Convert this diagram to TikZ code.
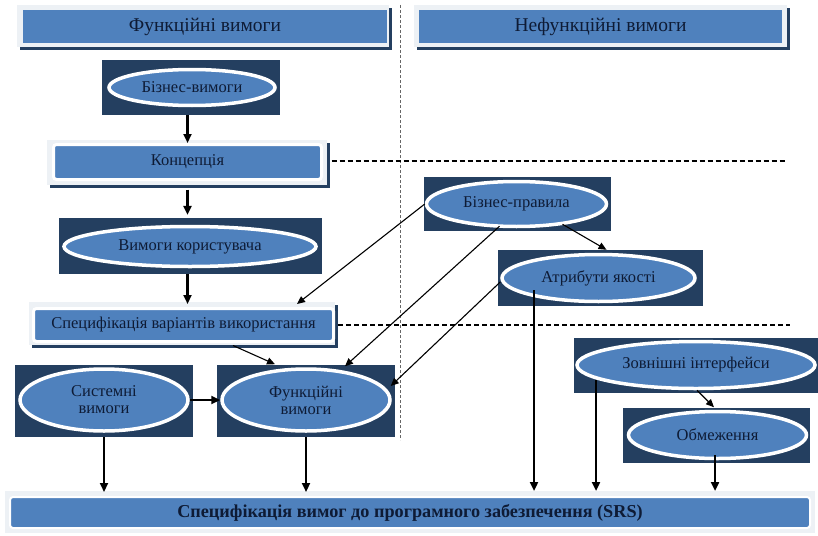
\documentclass[tikz,border=0pt]{standalone}
\usepackage{fontspec}
\setmainfont{Liberation Serif}
\usetikzlibrary{arrows.meta,calc,shapes.geometric}

\definecolor{fillblue}{HTML}{4F81BD}
\definecolor{navy}{HTML}{243F60}
\definecolor{ink}{HTML}{0E1B35}
\definecolor{haze}{HTML}{EDF1F5}

\begin{document}
\begin{tikzpicture}[x=1pt,y=-1pt,
  plate/.style={rectangle, fill=navy, draw=none, inner sep=0pt},
  oval/.style={ellipse, fill=fillblue, draw=white, line width=3.5pt, inner sep=0pt,
    text=ink, font=\rmfamily\fontsize{16.5}{17}\selectfont, align=center},
  bar/.style={rectangle, rounded corners=3pt, fill=fillblue, draw=white, line width=3pt,
    inner sep=0pt, text=ink, font=\rmfamily\fontsize{16.5}{18}\selectfont},
  head/.style={rectangle, fill=fillblue, draw=none, inner sep=0pt, text=ink,
    font=\rmfamily\fontsize{19.5}{21}\selectfont},
  varr/.style={-{Triangle[length=9pt,width=8pt]}, line width=2.2pt},
  darr/.style={-{Triangle[length=8pt,width=7pt]}, line width=1.1pt},
  sep/.style={line width=1.2pt, dash pattern=on 5pt off 3pt},
  divider/.style={line width=0.6pt, draw=black!60, dash pattern=on 3pt off 2pt},
]
\useasboundingbox (0,0) rectangle (818,535);
\fill[white] (0,0) rectangle (818,535);

% column headings
\fill[navy] (20,8) rectangle (392,50);
\fill[haze] (17,5) rectangle (389,47);
\node[head, minimum width=364, minimum height=33] (fh) at (205,26.5) {Функційні вимоги};
\fill[navy] (417,8) rectangle (790,50);
\fill[haze] (414,5) rectangle (787,47);
\node[head, minimum width=363, minimum height=33] (nh) at (600.5,26.5) {Нефункційні вимоги};

% column divider
\coordinate (divtop) at (400,5);
\coordinate (divbot) at (400,440);
\draw[divider] (divtop) -- (divbot);

% functional side
\node[plate, minimum width=178, minimum height=55] (bvp) at (191,87.5) {};
\node[oval, minimum width=166, minimum height=36] (bv) at (192,87.5) {Бізнес-вимоги};

\fill[navy] (50,143) rectangle (330,188);
\fill[haze] (47,140) rectangle (327,185);
\node[bar, minimum width=268, minimum height=35] (konc) at (187.5,162) {Концепція};

\node[plate, minimum width=263, minimum height=56] (vkp) at (190.5,246) {};
\node[oval, minimum width=252, minimum height=40] (vk) at (190,246.5) {Вимоги користувача};

\fill[navy] (32,305) rectangle (338,348);
\fill[haze] (29,302) rectangle (335,345);
\node[bar, minimum width=300, minimum height=33] (spec) at (183.5,325) {Специфікація варіантів використання};

\node[plate, minimum width=178, minimum height=72] (svp) at (104,401) {};
\node[oval, minimum width=168, minimum height=62] (sv) at (104,400) {Системні\\вимоги};
\node[plate, minimum width=178, minimum height=72] (fvp) at (306,401) {};
\node[oval, minimum width=168, minimum height=62] (fv) at (306,400) {Функційні\\вимоги};

% non-functional side
\node[plate, minimum width=187, minimum height=54] (bpp) at (517.5,204) {};
\node[oval, minimum width=180, minimum height=45] (bp) at (516.5,204) {Бізнес-правила};
\node[plate, minimum width=205, minimum height=56] (akp) at (600.5,278) {};
\node[oval, minimum width=193, minimum height=47] (ak) at (598.5,278) {Атрибути якості};
\node[plate, minimum width=244, minimum height=55] (zip) at (696,365.5) {};
\node[oval, minimum width=238, minimum height=47] (zi) at (696,365) {Зовнішні інтерфейси};
\node[plate, minimum width=187, minimum height=55] (obp) at (716.5,435.5) {};
\node[oval, minimum width=178, minimum height=47] (ob) at (717.5,435) {Обмеження};

% result
\fill[haze] (5,491) rectangle (815,533);
\node[bar, draw=white, line width=2pt, minimum width=800, minimum height=31,
  font=\rmfamily\fontsize{18.2}{20}\selectfont\bfseries] (srs) at (410,512.5)
  {Специфікація вимог до програмного забезпечення (SRS)};

% level separators
\coordinate (d1) at (785,161);
\coordinate (d2) at (790,325);
\draw[sep] ($(konc.east)+(8.5,-1)$) -- (d1);
\draw[sep] ($(spec.east)+(3,0)$) -- (d2);

% main flow
\draw[varr] (konc.north |- bvp.south) -- (konc.north);
\draw[varr] ($(konc.south)+(0,8.5)$) -- ($(konc.south |- vkp.north)+(0,-3)$);
\draw[varr] (konc.south |- vkp.south) -- ($(konc.south |- spec.north)+(0,-3)$);
\draw[varr] (sv.east) -- (fv.west);
\draw[varr] (svp.south) -- ($(svp.south |- srs.north)+(0,-4)$);
\draw[varr] (fvp.south) -- ($(fvp.south |- srs.north)+(0,-4)$);

% links into functional requirements
\draw[darr] ($(spec.south)+(49.5,2.5)$) -- ($(fv.north)+(-31,-3)$);
\draw[darr] (bp.west) -- ($(spec.north)+(113.5,-3)$);
\draw[darr] ($(bp.south)+(-17,-2)$) -- ($(fv.north)+(39,-1)$);
\draw[darr] ($(ak.west)+(0,4)$) -- ($(fv.east)+(-1,-14)$);
\draw[darr] ($(bp.south)+(46,-4)$) -- ($(akp.north)+(6,0)$);

% non-functional into SRS
\draw[varr] ($(ak.center)+(-64.5,12)$) -- ($(srs.north)+(124,-5)$);
\draw[varr] ($(zi.center)+(-100,15)$) -- ($(srs.north)+(186,-5)$);
\draw[darr] ($(zi.south)+(1,0)$) -- ($(ob.north)+(-3.5,-2.5)$);
\draw[varr] ($(ob.center)+(-2.5,20)$) -- ($(srs.north)+(305,-5)$);
\end{tikzpicture}
\end{document}
